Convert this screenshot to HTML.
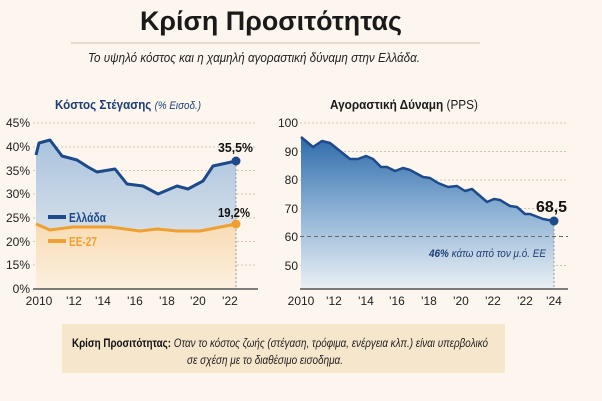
<!DOCTYPE html>
<html><head><meta charset="utf-8"><style>
html,body{margin:0;padding:0;background:#fcf6ee;}
svg{display:block;font-family:"Liberation Sans",sans-serif;}
</style></head><body>
<svg width="602" height="401" viewBox="0 0 602 401" xmlns="http://www.w3.org/2000/svg">
<defs>
<linearGradient id="gl" x1="0" y1="0" x2="0" y2="1"><stop offset="0" stop-color="#aac3de"/><stop offset="1" stop-color="#eef0ef"/></linearGradient>
<linearGradient id="go" x1="0" y1="0" x2="0" y2="1"><stop offset="0" stop-color="#f8dcb4"/><stop offset="1" stop-color="#fcf0e0"/></linearGradient>
<linearGradient id="gr" x1="0" y1="0" x2="0" y2="1"><stop offset="0" stop-color="#2f6cab"/><stop offset="0.5" stop-color="#8fb3d6"/><stop offset="1" stop-color="#eaf0f4"/></linearGradient>
</defs>
<rect width="602" height="401" fill="#fcf6ee"/>
<text x="271" y="30" text-anchor="middle" font-size="27" font-weight="bold" fill="#1a1a1a" textLength="262" lengthAdjust="spacingAndGlyphs">Κρίση Προσιτότητας</text>
<line x1="71" y1="43" x2="480" y2="43" stroke="#c9c2b8" stroke-width="1"/>
<text x="88" y="62" font-size="13" font-style="italic" fill="#222" textLength="332" lengthAdjust="spacingAndGlyphs">Το υψηλό κόστος και η χαμηλή αγοραστική δύναμη στην Ελλάδα.</text>

<!-- Left chart -->
<text x="55" y="109" font-size="13" fill="#1d3f73" textLength="146" lengthAdjust="spacingAndGlyphs"><tspan font-weight="bold">Κόστος Στέγασης</tspan> <tspan font-style="italic" font-size="11">(% Εισοδ.)</tspan></text>
<g stroke="#cfc6bb" stroke-dasharray="2,2" stroke-width="1">
<line x1="33" y1="123" x2="256" y2="123"/><line x1="33" y1="147" x2="256" y2="147"/><line x1="33" y1="170.5" x2="256" y2="170.5"/><line x1="33" y1="194" x2="256" y2="194"/><line x1="33" y1="218" x2="256" y2="218"/><line x1="33" y1="241.5" x2="256" y2="241.5"/><line x1="33" y1="265" x2="256" y2="265"/>
</g>
<g font-size="12" fill="#222" text-anchor="end">
<text x="30" y="127">45%</text><text x="30" y="151">40%</text><text x="30" y="175">35%</text><text x="30" y="198">30%</text><text x="30" y="222">25%</text><text x="30" y="246">20%</text><text x="30" y="269">15%</text><text x="30" y="293">0%</text>
</g>
<path d="M36,155 L39,143 L50,140 L62,156 L77,160 L88,167 L97,172 L115,169 L127,184 L143,186 L158,194 L177,186 L188,189 L203,181 L213,166 L236,161 L236,289 L36,289 Z" fill="url(#gl)"/>
<path d="M36,224 L50,230 L73,227 L110,227 L140,231 L157,229 L177,231 L200,231 L236,224 L236,289 L36,289 Z" fill="url(#go)"/>
<polyline points="36,155 39,143 50,140 62,156 77,160 88,167 97,172 115,169 127,184 143,186 158,194 177,186 188,189 203,181 213,166 236,161" fill="none" stroke="#1d4a8a" stroke-width="3" stroke-linejoin="round"/>
<polyline points="36,224 50,230 73,227 110,227 140,231 157,229 177,231 200,231 236,224" fill="none" stroke="#f0a030" stroke-width="3" stroke-linejoin="round"/>
<line x1="236" y1="161" x2="236" y2="289" stroke="#999" stroke-dasharray="2,2"/>
<circle cx="236" cy="161" r="4.5" fill="#1d4a8a"/>
<circle cx="236" cy="224" r="4.5" fill="#f0a030"/>
<line x1="33" y1="289" x2="258" y2="289" stroke="#555" stroke-width="1.5"/>
<text x="218" y="152" font-size="13" font-weight="bold" fill="#111" textLength="35" lengthAdjust="spacingAndGlyphs">35,5%</text>
<text x="218" y="217" font-size="13" font-weight="bold" fill="#111" textLength="32" lengthAdjust="spacingAndGlyphs">19,2%</text>
<line x1="48" y1="217" x2="66" y2="217" stroke="#1d4a8a" stroke-width="4"/>
<text x="69" y="222" font-size="13" font-weight="bold" fill="#1d4a8a" textLength="37" lengthAdjust="spacingAndGlyphs">Ελλάδα</text>
<line x1="48" y1="241" x2="66" y2="241" stroke="#f0a030" stroke-width="4"/>
<text x="69" y="246" font-size="13" font-weight="bold" fill="#f0a030" textLength="28" lengthAdjust="spacingAndGlyphs">ΕΕ-27</text>
<g font-size="12" fill="#222" text-anchor="middle">
<text x="39" y="305">2010</text><text x="74" y="305">'12</text><text x="103" y="305">'14</text><text x="135" y="305">'16</text><text x="167" y="305">'18</text><text x="198" y="305">'20</text><text x="230" y="305">'22</text>
</g>

<!-- Right chart -->
<text x="330" y="109" font-size="13" fill="#1a1a1a" textLength="148" lengthAdjust="spacingAndGlyphs"><tspan font-weight="bold">Αγοραστική Δύναμη</tspan> (PPS)</text>
<g stroke="#cfc6bb" stroke-dasharray="2,2" stroke-width="1">
<line x1="300" y1="123" x2="568" y2="123"/><line x1="300" y1="151.5" x2="568" y2="151.5"/><line x1="300" y1="180" x2="568" y2="180"/><line x1="300" y1="208.5" x2="568" y2="208.5"/><line x1="300" y1="265.5" x2="568" y2="265.5"/>
</g>
<g font-size="12" fill="#222" text-anchor="end">
<text x="298" y="127">100</text><text x="298" y="156">90</text><text x="298" y="184">80</text><text x="298" y="213">70</text><text x="298" y="241">60</text><text x="298" y="270">50</text>
</g>
<path d="M301,137 L313,147 L322,141 L330,143 L350,159 L358,159 L366,156 L373,159 L381,167 L387,167 L395,171 L403,168 L410,170 L423,177 L430,178 L438,183 L448,187 L457,186 L465,191 L472,189 L487,202 L494,199 L500,200 L510,206 L517,207 L525,214 L530,214 L543,219 L554,221 L554,289 L301,289 Z" fill="url(#gr)"/>
<polyline points="301,137 313,147 322,141 330,143 350,159 358,159 366,156 373,159 381,167 387,167 395,171 403,168 410,170 423,177 430,178 438,183 448,187 457,186 465,191 472,189 487,202 494,199 500,200 510,206 517,207 525,214 530,214 543,219 554,221" fill="none" stroke="#1d4a8a" stroke-width="2.5" stroke-linejoin="round"/>
<line x1="300" y1="236.5" x2="568" y2="236.5" stroke="#666" stroke-dasharray="4,3"/>
<line x1="554" y1="221" x2="554" y2="289" stroke="#999" stroke-dasharray="2,2"/>
<circle cx="554" cy="221" r="4.5" fill="#1d4a8a"/>
<line x1="300" y1="289" x2="568" y2="289" stroke="#555" stroke-width="1.5"/>
<text x="536" y="212" font-size="16" font-weight="bold" fill="#111" textLength="31" lengthAdjust="spacingAndGlyphs">68,5</text>
<text x="429" y="257" font-size="11" font-style="italic" fill="#1d3f73" textLength="117" lengthAdjust="spacingAndGlyphs"><tspan font-weight="bold">46%</tspan> κάτω από τον μ.ό. ΕΕ</text>
<g font-size="12" fill="#222" text-anchor="middle">
<text x="301" y="305">2010</text><text x="334" y="305">'12</text><text x="366" y="305">'14</text><text x="397" y="305">'16</text><text x="429" y="305">'18</text><text x="461" y="305">'20</text><text x="493" y="305">'22</text><text x="525" y="305">'22</text><text x="554" y="305">'24</text>
</g>

<!-- Bottom box -->
<rect x="62" y="324" width="443" height="49" fill="#f6e6cc"/>
<text x="72" y="347" font-size="12" fill="#222" textLength="416" lengthAdjust="spacingAndGlyphs"><tspan font-weight="bold" fill="#111">Κρίση Προσιτότητας:</tspan> <tspan font-style="italic">Οταν το κόστος ζωής (στέγαση, τρόφιμα, ενέργεια κλπ.) είναι υπερβολικό</tspan></text>
<text x="187" y="364" font-size="12" font-style="italic" fill="#222" textLength="156" lengthAdjust="spacingAndGlyphs">σε σχέση με το διαθέσιμο εισοδημα.</text>
</svg>
</body></html>
